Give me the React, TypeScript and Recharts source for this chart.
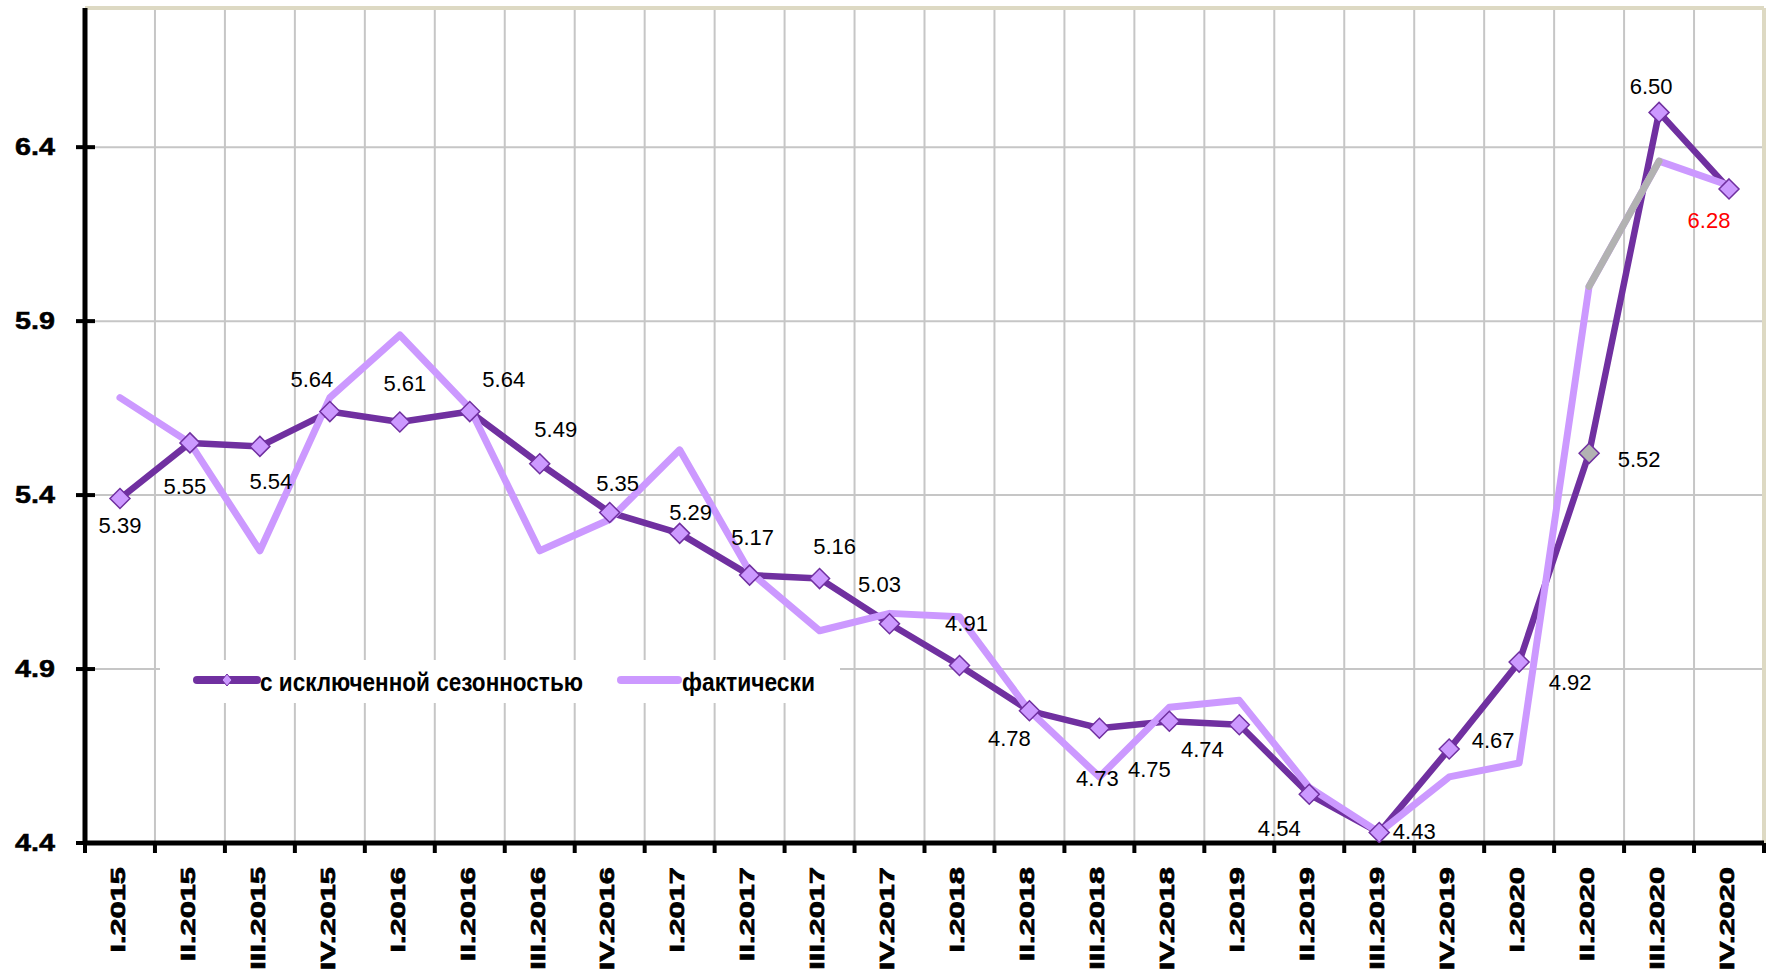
import React from 'react';
import { LineChart, Line, XAxis, YAxis, CartesianGrid, ReferenceLine, LabelList } from 'recharts';

const quarters = [
  'I.2015', 'II.2015', 'III.2015', 'IV.2015',
  'I.2016', 'II.2016', 'III.2016', 'IV.2016',
  'I.2017', 'II.2017', 'III.2017', 'IV.2017',
  'I.2018', 'II.2018', 'III.2018', 'IV.2018',
  'I.2019', 'II.2019', 'III.2019', 'IV.2019',
  'I.2020', 'II.2020', 'III.2020', 'IV.2020',
];

const seasonallyAdjusted = [
  5.39, 5.55, 5.54, 5.64,
  5.61, 5.64, 5.49, 5.35,
  5.29, 5.17, 5.16, 5.03,
  4.91, 4.78, 4.73, 4.75,
  4.74, 4.54, 4.43, 4.67,
  4.92, 5.52, 6.50, 6.28,
];

const actual = [
  5.68, 5.55, 5.24, 5.68,
  5.86, 5.65, 5.24, 5.33,
  5.53, 5.18, 5.01, 5.06,
  5.05, 4.78, 4.59, 4.79,
  4.81, 4.56, 4.43, 4.59,
  4.63, 6.0, 6.36, 6.29,
];

const bridgeQuarters = ['II.2020', 'III.2020'];
const greyMarkerQuarter = 'II.2020';
const redLabelQuarter = 'IV.2020';

const yTicks = [4.4, 4.9, 5.4, 5.9, 6.4];
const yDomain = [4.4, 6.8];

const seriesNames = ['с исключенной сезонностью', 'фактически'];

// label offsets (dx, dy) in px relative to point
const labelOffsets = [
  [0, 27], [-5, 44], [11, 35], [-18, -32],
  [5, -39], [34, -32], [16, -34], [8, -29],
  [11, -21], [3, -38], [15, -32], [-10, -39],
  [7, -42], [-20, 28], [-2, 50], [-20, 48],
  [-37, 25], [-30, 34], [35, -1], [44, -9],
  [51, 20], [50, 6], [-8, -26], [-20, 32],
];

const DARK = '#7030a0';
const LIGHT = '#cc99ff';
const GREY = '#b2b2b2';
const GRID = '#c6c6c6';
const BEIGE = '#ddd9c3';
const FONT = '"Liberation Sans", Arial, sans-serif';

const data = quarters.map((q, i) => ({
  idx: i,
  q,
  sa: seasonallyAdjusted[i],
  actual: actual[i],
  bridge: bridgeQuarters.includes(q) ? actual[i] : null,
}));

const boundaryTicks = quarters.map((_, i) => i - 0.5).concat([quarters.length - 0.5]);
const centerTicks = quarters.map((_, i) => i);
const xDomain = [-0.5, quarters.length - 0.5];

const Diamond = (props: any) => {
  const { cx, cy, index } = props;
  if (cx == null || cy == null) return <g key={`d${index}`} />;
  const r = 10;
  const fill = quarters[index] === greyMarkerQuarter ? GREY : LIGHT;
  return (
    <path
      key={`d${index}`}
      d={`M${cx},${cy - r} L${cx + r},${cy} L${cx},${cy + r} L${cx - r},${cy} Z`}
      fill={fill}
      stroke={DARK}
      strokeWidth={1.5}
    />
  );
};

const DataLabel = (props: any) => {
  const { index, value } = props;
  const x = props.x ?? props.viewBox?.x;
  const y = props.y ?? props.viewBox?.y;
  if (x == null || y == null || value == null) return null;
  const [dx, dy] = labelOffsets[index] || [0, -20];
  const red = quarters[index] === redLabelQuarter;
  return (
    <text
      x={x + dx}
      y={y + dy}
      textAnchor="middle"
      dominantBaseline="central"
      fontFamily={FONT}
      fontSize={22}
      fill={red ? '#ff0000' : '#000'}
    >
      {Number(value).toFixed(2)}
    </text>
  );
};

const YTick = (props: any) => {
  const { x, y, payload } = props;
  return (
    <g>
      <line x1={x - 9} x2={x + 10} y1={y} y2={y} stroke="#000" strokeWidth={4} />
      <text
        transform={`translate(${x - 30}, ${y}) scale(1.25, 1)`}
        textAnchor="end"
        dominantBaseline="central"
        fontFamily={FONT}
        fontWeight="bold"
        fontSize={23}
        fill="#000"
        stroke="#000"
        strokeWidth={0.5}
      >
        {Number(payload.value).toFixed(1)}
      </text>
    </g>
  );
};

const XTick = (props: any) => {
  const { x, y, payload } = props;
  const label = quarters[payload.value];
  if (label == null) return null;
  return (
    <text
      transform={`translate(${x - 2}, ${y + 23}) rotate(-90) scale(1.58, 1)`}
      textAnchor="end"
      dominantBaseline="central"
      fontFamily={FONT}
      fontWeight="bold"
      fontSize={19.5}
      fill="#000"
      stroke="#000"
      strokeWidth={0.7}
    >
      {label}
    </text>
  );
};

const LegendOverlay = () => (
  <div
    style={{
      position: 'absolute',
      left: 160,
      top: 660,
      width: 680,
      height: 43,
      background: '#fff',
    }}
  >
    <svg width={680} height={43} style={{ display: 'block' }}>
      <line x1={37} x2={97} y1={20} y2={20} stroke={DARK} strokeWidth={8} strokeLinecap="round" />
      <path d="M67,14 L72,20 L67,26 L62,20 Z" fill={LIGHT} stroke={DARK} strokeWidth={1} />
      <text
        x={100}
        y={31}
        fontFamily={FONT}
        fontWeight="bold"
        fontSize={25}
        textLength={323}
        lengthAdjust="spacingAndGlyphs"
        fill="#000"
      >
        {seriesNames[0]}
      </text>
      <line x1={461} x2={518} y1={20} y2={20} stroke={LIGHT} strokeWidth={8} strokeLinecap="round" />
      <text
        x={522}
        y={31}
        fontFamily={FONT}
        fontWeight="bold"
        fontSize={25}
        textLength={133}
        lengthAdjust="spacingAndGlyphs"
        fill="#000"
      >
        {seriesNames[1]}
      </text>
    </svg>
  </div>
);

export default function App() {
  return (
    <div
      style={{
        position: 'absolute',
        left: 0,
        top: 0,
        width: 1767,
        height: 975,
        background: '#fff',
        overflow: 'hidden',
      }}
    >
      <LineChart
        width={1767}
        height={975}
        data={data}
        margin={{ top: 8, right: 3, left: 0, bottom: 0 }}
      >
        <CartesianGrid xAxisId="b" stroke={GRID} strokeWidth={2} />
        <XAxis
          xAxisId="b"
          type="number"
          dataKey="idx"
          domain={xDomain}
          ticks={boundaryTicks}
          interval={0}
          allowDataOverflow
          height={1}
          axisLine={{ stroke: '#000', strokeWidth: 5 }}
          tickLine={{ stroke: '#000', strokeWidth: 4 }}
          tickSize={10}
          tickFormatter={() => ''}
        />
        <XAxis
          xAxisId="m"
          type="number"
          dataKey="idx"
          domain={xDomain}
          ticks={centerTicks}
          interval={0}
          allowDataOverflow
          height={131}
          axisLine={false}
          tickLine={false}
          tickSize={0}
          tickMargin={0}
          tick={XTick}
        />
        <YAxis
          type="number"
          domain={yDomain}
          ticks={yTicks}
          interval={0}
          allowDataOverflow
          width={85}
          axisLine={{ stroke: '#000', strokeWidth: 5 }}
          tickLine={false}
          tickSize={0}
          tickMargin={0}
          tick={YTick}
        />
        <ReferenceLine xAxisId="b" y={yDomain[1]} stroke={BEIGE} strokeWidth={4} ifOverflow="visible" />
        <ReferenceLine xAxisId="b" x={xDomain[1]} stroke={BEIGE} strokeWidth={4} ifOverflow="visible" />
        <Line
          xAxisId="m"
          dataKey="sa"
          stroke={DARK}
          strokeWidth={6.5}
          strokeLinejoin="round"
          dot={false}
          activeDot={false}
          isAnimationActive={false}
        />
        <Line
          xAxisId="m"
          dataKey="actual"
          stroke={LIGHT}
          strokeWidth={7}
          strokeLinejoin="round"
          strokeLinecap="round"
          dot={false}
          activeDot={false}
          isAnimationActive={false}
        />
        <Line
          xAxisId="m"
          dataKey="bridge"
          stroke={GREY}
          strokeWidth={7}
          strokeLinejoin="round"
          strokeLinecap="round"
          dot={false}
          activeDot={false}
          connectNulls={false}
          isAnimationActive={false}
        />
        <Line
          xAxisId="m"
          dataKey="sa"
          stroke="none"
          strokeWidth={0}
          dot={Diamond}
          activeDot={false}
          isAnimationActive={false}
        >
          <LabelList dataKey="sa" content={DataLabel} />
        </Line>
      </LineChart>
      <LegendOverlay />
    </div>
  );
}
